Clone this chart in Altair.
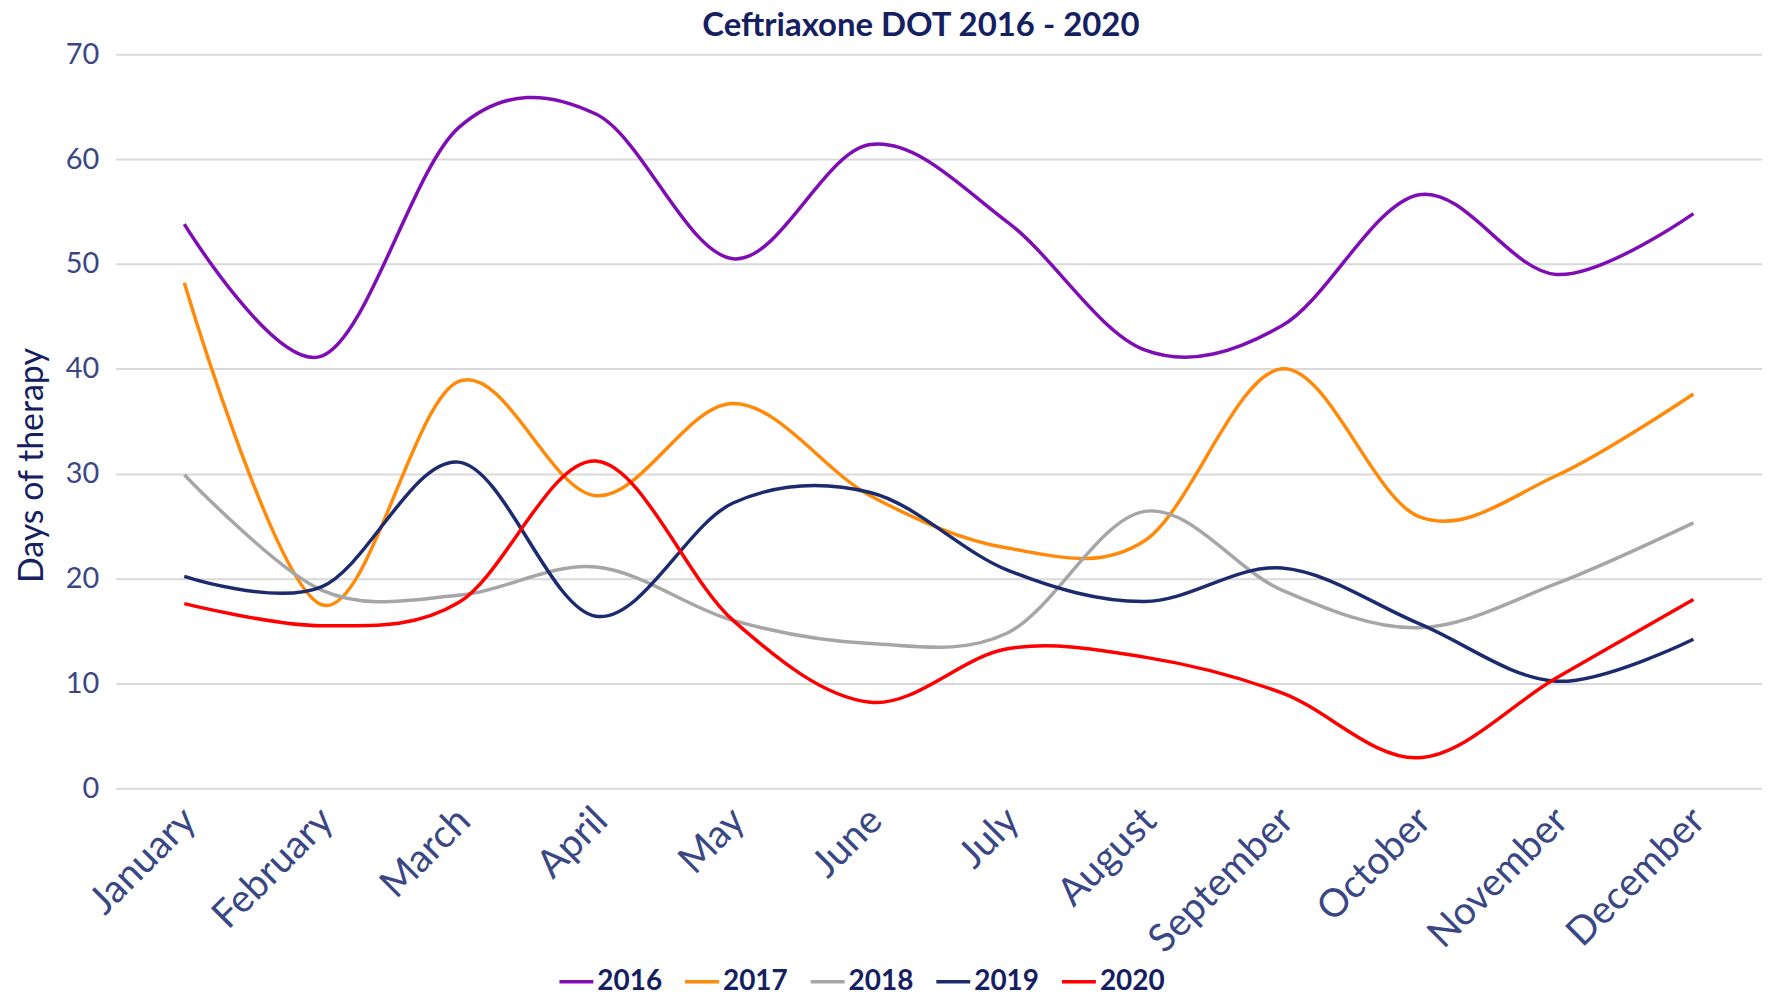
import altair as alt
import pandas as pd

months = ["January", "February", "March", "April", "May", "June", "July",
          "August", "September", "October", "November", "December"]
years = ["2016", "2017", "2018", "2019", "2020"]
colors = ["#7e0eb4", "#ff8a0a", "#a6a6a6", "#1c2a6e", "#ff0000"]

dot_2016 = [53.8, 41.2, 63.0, 64.3, 50.5, 61.4, 54.0, 41.8, 44.1, 56.6, 49.0, 54.8]
dot_2017 = [48.2, 17.5, 38.8, 27.9, 36.7, 27.9, 22.9, 23.6, 40.0, 25.9, 29.8, 37.6]
dot_2018 = [29.9, 18.9, 18.4, 21.1, 16.0, 13.8, 14.8, 26.4, 18.9, 15.3, 19.5, 25.3]
dot_2019 = [20.2, 19.2, 31.1, 16.4, 27.2, 28.2, 20.8, 17.8, 21.0, 15.7, 10.2, 14.2]
dot_2020 = [17.6, 15.5, 17.7, 31.2, 16.0, 8.2, 13.3, 12.5, 9.1, 2.9, 10.5, 18.0]

series = dict(zip(years, [dot_2016, dot_2017, dot_2018, dot_2019, dot_2020]))
rows = []
for yr, vals in series.items():
    for m, v in zip(months, vals):
        rows.append({"month": m, "year": yr, "dot": v})
df = pd.DataFrame(rows)

navy = "#14205f"
tick_col = "#3a4785"

chart = alt.Chart(df).mark_line(interpolate="cardinal", strokeWidth=3.5).encode(
    x=alt.X("month:N", sort=months, title=None,
            axis=alt.Axis(labelAngle=-45, labelAlign="right", labelBaseline="middle",
                          labelFont="Lato", labelFontSize=39, labelColor=tick_col,
                          labelPadding=26, labelOffset=5, domain=False, ticks=False,
                          grid=False, labelOverlap=False, labelLimit=500)),
    y=alt.Y("dot:Q", scale=alt.Scale(domain=[0, 70], nice=False),
            axis=alt.Axis(values=[0, 10, 20, 30, 40, 50, 60, 70], grid=True,
                          gridColor="#d9d9d9", gridWidth=2, domain=False, ticks=False,
                          labelFont="Lato", labelFontSize=29, labelColor=tick_col,
                          labelPadding=17, title="Days of therapy", titleFont="Lato",
                          titleFontSize=34, titleFontWeight="normal", titleColor=navy,
                          titleX=-66, titleY=412, titleAngle=-90)),
    color=alt.Color("year:N", scale=alt.Scale(domain=years, range=colors),
                    legend=alt.Legend(title=None, orient="none", legendX=443, legendY=911,
                                      direction="horizontal", symbolType="stroke",
                                      symbolSize=1156, symbolStrokeWidth=3.5,
                                      labelFont="Lato", labelFontSize=28,
                                      labelFontWeight="bold", labelColor=navy,
                                      labelOffset=2, columnPadding=16)),
).properties(
    width=1651,
    height=736,
    title=alt.TitleParams("Ceftriaxone DOT 2016 - 2020", font="Lato", fontSize=33,
                          fontWeight="bold", color=navy, anchor="middle", dx=-18,
                          offset=-3),
    autosize=alt.AutoSizeParams(type="none"),
    padding={"left": 108, "top": 45, "right": 0, "bottom": 207},
).configure_view(strokeWidth=0)

chart.save("out.html", embed_options={"renderer": "svg", "actions": False})
